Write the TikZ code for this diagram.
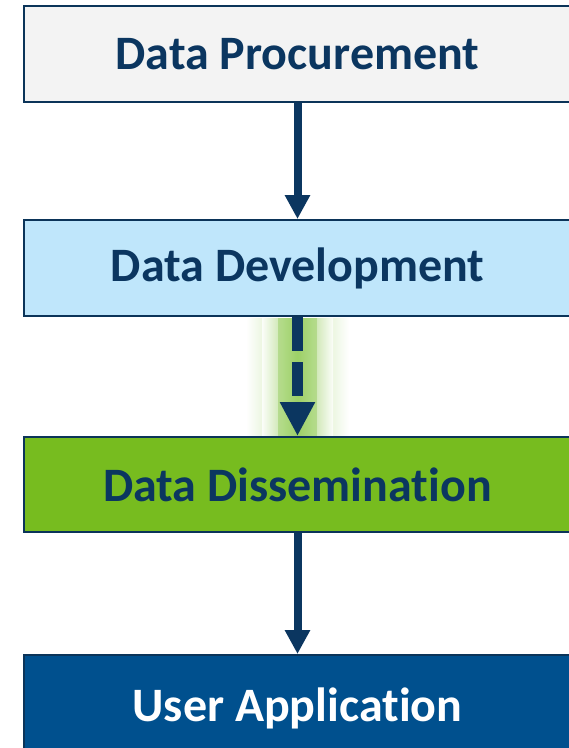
\documentclass[tikz,border=0pt]{standalone}
\usepackage{fontspec}
\setmainfont{Carlito}[Ligatures={NoCommon,NoRare}]
\usetikzlibrary{arrows.meta}
\definecolor{navy}{HTML}{0B3660}
\definecolor{boxline}{HTML}{0B3459}
\definecolor{fillA}{HTML}{F3F3F3}
\definecolor{fillB}{HTML}{BFE6FB}
\definecolor{fillC}{HTML}{77BC1F}
\definecolor{fillD}{HTML}{00508E}
\definecolor{glow}{HTML}{9ACF62}
\tikzset{
  stage/.style={draw=boxline, line width=2pt, minimum width=547pt, inner sep=0pt,
    font=\fontsize{48}{54}\selectfont\bfseries, text=navy},
  flow/.style={draw=navy, line width=8pt, -{Triangle[width=24pt,length=24pt]}},
  dflow/.style={draw=navy, line width=11pt, dash pattern=on 34pt off 11pt, -{Triangle[width=33pt,length=34pt]}}
}
\begin{document}
\begin{tikzpicture}[x=1pt,y=-1pt]
\useasboundingbox (0,0) rectangle (569,748);
\begin{scope}
\clip (0,0) rectangle (569,748);
% glow behind dashed arrow
\shade[left color=white, right color=white, middle color=glow, opacity=0.6] (246,318) rectangle (349,436);
\shade[left color=white, right color=white, middle color=glow, opacity=0.8] (262,318) rectangle (333,436);
\fill[glow, opacity=0.5] (278,318) rectangle (317,436);
\node[stage, fill=fillA, minimum height=96pt] (proc) at (297.5,54) {Data Procurement};
\node[stage, fill=fillB, minimum height=96pt] (dev) at (297.5,268) {Data Development};
\node[stage, fill=fillC, minimum height=95pt] (diss) at (297.5,484.5) {Data Dissemination};
\node[stage, fill=fillD, minimum height=106pt, text=white] (user) at (297.5,708) {User Application};
\draw[flow] (proc.south) -- (dev.north);
\draw[dflow] (dev.south) -- (diss.north);
\draw[flow] (diss.south) -- (user.north);
\end{scope}
\end{tikzpicture}
\end{document}
